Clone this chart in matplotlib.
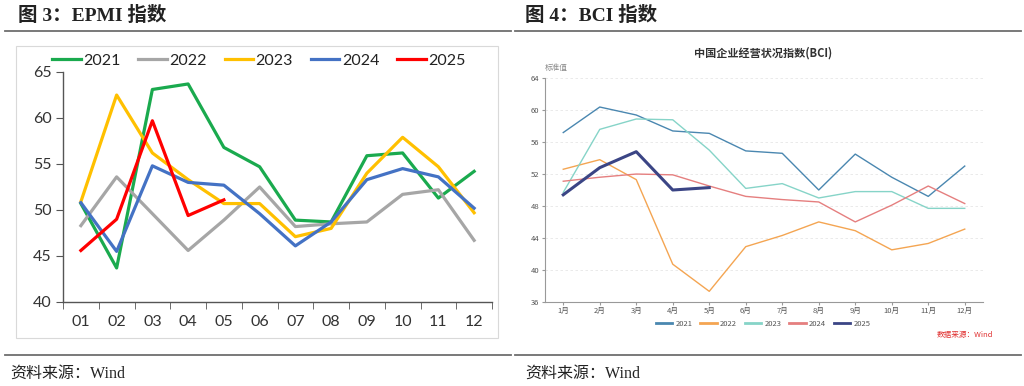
import matplotlib
matplotlib.use("Agg")
import matplotlib.pyplot as plt
from matplotlib.patches import Rectangle
from matplotlib.lines import Line2D

plt.rcParams['font.family'] = ['Noto Sans CJK SC', 'DejaVu Sans']
SERIF = ['Liberation Serif', 'Noto Sans CJK SC']

months = list(range(1, 13))
epmi_ticks = ['01', '02', '03', '04', '05', '06', '07', '08', '09', '10', '11', '12']
bci_ticks = [f'{m}月' for m in months]
years = ['2021', '2022', '2023', '2024', '2025']

epmi_2021 = [50.7, 43.7, 63.1, 63.7, 56.8, 54.7, 48.9, 48.7, 55.9, 56.2, 51.3, 54.2]
epmi_2022 = [48.3, 53.6, 49.6, 45.6, 48.9, 52.5, 48.2, 48.5, 48.7, 51.7, 52.2, 46.7]
epmi_2023 = [50.9, 62.5, 56.2, 53.3, 50.7, 50.7, 47.1, 48.0, 54.0, 57.9, 54.7, 49.7]
epmi_2024 = [50.8, 45.5, 54.8, 53.0, 52.7, 49.6, 46.1, 48.7, 53.3, 54.5, 53.6, 50.2]
epmi_2025 = [45.6, 49.0, 59.7, 49.4, 51.1]

bci_2021 = [57.2, 60.4, 59.4, 57.4, 57.1, 54.9, 54.6, 50.0, 54.5, 51.6, 49.2, 53.0]
bci_2022 = [52.6, 53.8, 51.3, 40.7, 37.3, 42.9, 44.3, 46.0, 44.9, 42.5, 43.3, 45.1]
bci_2023 = [49.7, 57.6, 58.9, 58.8, 55.0, 50.2, 50.8, 49.0, 49.8, 49.8, 47.7, 47.7]
bci_2024 = [51.1, 51.6, 52.0, 51.9, 50.5, 49.2, 48.8, 48.5, 46.0, 48.1, 50.5, 48.3]
bci_2025 = [49.4, 52.8, 54.8, 50.0, 50.3]

W, H = 1024, 386
fig = plt.figure(figsize=(W / 100, H / 100), dpi=100)


def fx(px):
    return px / W


def fy(py):
    return 1 - py / H


# headings, rules and source lines
fig.text(fx(18), fy(15), '图 3：EPMI 指数', fontsize=14, fontweight='bold',
         va='center', ha='left', color='#222222', family=SERIF)
fig.text(fx(525), fy(15), '图 4：BCI 指数', fontsize=14, fontweight='bold',
         va='center', ha='left', color='#222222', family=SERIF)
for x0, x1 in [(5, 511), (515, 1021)]:
    fig.add_artist(Line2D([fx(x0), fx(x1)], [fy(31), fy(31)], color='#6e6e6e', lw=1.3))
    fig.add_artist(Line2D([fx(x0), fx(x1)], [fy(355), fy(355)], color='#6e6e6e', lw=1.3))
fig.text(fx(10), fy(374), '资料来源：Wind', fontsize=11.5, va='center', ha='left',
         color='#222222', family=SERIF)
fig.text(fx(525), fy(374), '资料来源：Wind', fontsize=11.5, va='center', ha='left',
         color='#222222', family=SERIF)

# left frame
fig.add_artist(Rectangle((fx(16), fy(338)), fx(498) - fx(16), fy(46) - fy(338),
                         fill=False, edgecolor='#d9d9d9', lw=0.8))

# ---- EPMI
ax1 = fig.add_axes([fx(63), fy(302), fx(492) - fx(63), fy(72) - fy(302)])
epmi = [epmi_2021, epmi_2022, epmi_2023, epmi_2024, epmi_2025]
epmi_colors = ['#1aaa4e', '#a6a6a6', '#ffc000', '#4472c4', '#ff0000']
for yr, vals, c in zip(years, epmi, epmi_colors):
    ax1.plot(months[:len(vals)], vals, color=c, lw=2.3, label=yr)
ax1.set_xlim(0.5, 12.5)
ax1.set_ylim(40, 65)
ax1.set_yticks([40, 45, 50, 55, 60, 65])
ax1.set_xticks(months)
ax1.set_xticklabels(epmi_ticks)
ax1.set_xticks([m + 0.5 for m in range(0, 13)], minor=True)
ax1.tick_params(axis='x', which='major', length=0, labelsize=11.5, pad=9, colors='#333333')
ax1.tick_params(axis='x', which='minor', length=5, direction='out', color='#555555')
ax1.tick_params(axis='y', length=5, labelsize=11.5, colors='#333333', pad=3)
ax1.tick_params(axis='y', color='#555555')
for lbl in ax1.get_xticklabels() + ax1.get_yticklabels():
    lbl.set_family('Lato')
for s in ['top', 'right']:
    ax1.spines[s].set_visible(False)
for s in ['left', 'bottom']:
    ax1.spines[s].set_color('#555555')
    ax1.spines[s].set_linewidth(1.0)
leg1 = ax1.legend(loc='lower left', bbox_to_anchor=(fx(49), fy(71)), bbox_transform=fig.transFigure,
                  ncol=5, frameon=False, prop={'family': 'Lato', 'size': 11.5},
                  handlelength=1.8, handletextpad=0.15, columnspacing=1.1,
                  borderaxespad=0, borderpad=0.2, labelcolor='#222222')

# ---- BCI
ax2 = fig.add_axes([fx(545), fy(301.7), fx(983) - fx(545), fy(78.3) - fy(301.7)])
bci = [bci_2021, bci_2022, bci_2023, bci_2024, bci_2025]
bci_colors = ['#4a87b0', '#f4a552', '#86d4c8', '#e57f7f', '#3b4585']
bci_widths = [1.0, 1.0, 1.0, 1.0, 2.2]
for yr, vals, c, w in zip(years, bci, bci_colors, bci_widths):
    ax2.plot(months[:len(vals)], vals, color=c, lw=w, label=yr)
ax2.set_xlim(0.5, 12.5)
ax2.set_ylim(36, 64)
ax2.set_yticks(range(36, 65, 4))
ax2.set_xticks(months)
ax2.set_xticklabels(bci_ticks)
ax2.grid(axis='y', color='#e6e6e6', lw=0.6, ls=(0, (3, 3)))
ax2.tick_params(axis='both', labelsize=5.5, colors='#555555', length=2, color='#999999', pad=2)
for s in ['top', 'right']:
    ax2.spines[s].set_visible(False)
for s in ['left', 'bottom']:
    ax2.spines[s].set_color('#999999')
    ax2.spines[s].set_linewidth(0.8)
ax2.text(0.0, 64.8, '标准值', fontsize=5.5, color='#888888', ha='left', va='bottom',
         transform=ax2.get_yaxis_transform())
fig.text(fx(763), fy(53), '中国企业经营状况指数(BCI)', fontsize=8, fontweight='bold',
         ha='center', va='center', color='#333333')
leg2 = ax2.legend(loc='center', bbox_to_anchor=(fx(763), fy(324)), bbox_transform=fig.transFigure,
                  ncol=5, frameon=False, fontsize=5.5, handlelength=2.2, handletextpad=0.4,
                  columnspacing=1.0, labelcolor='#555555')
for h in leg2.get_lines():
    h.set_linewidth(2.0)
fig.text(fx(993), fy(335), '数据来源：Wind', fontsize=5.5, color='#e03030',
         ha='right', va='center')

fig.savefig('out.png', dpi=100)
